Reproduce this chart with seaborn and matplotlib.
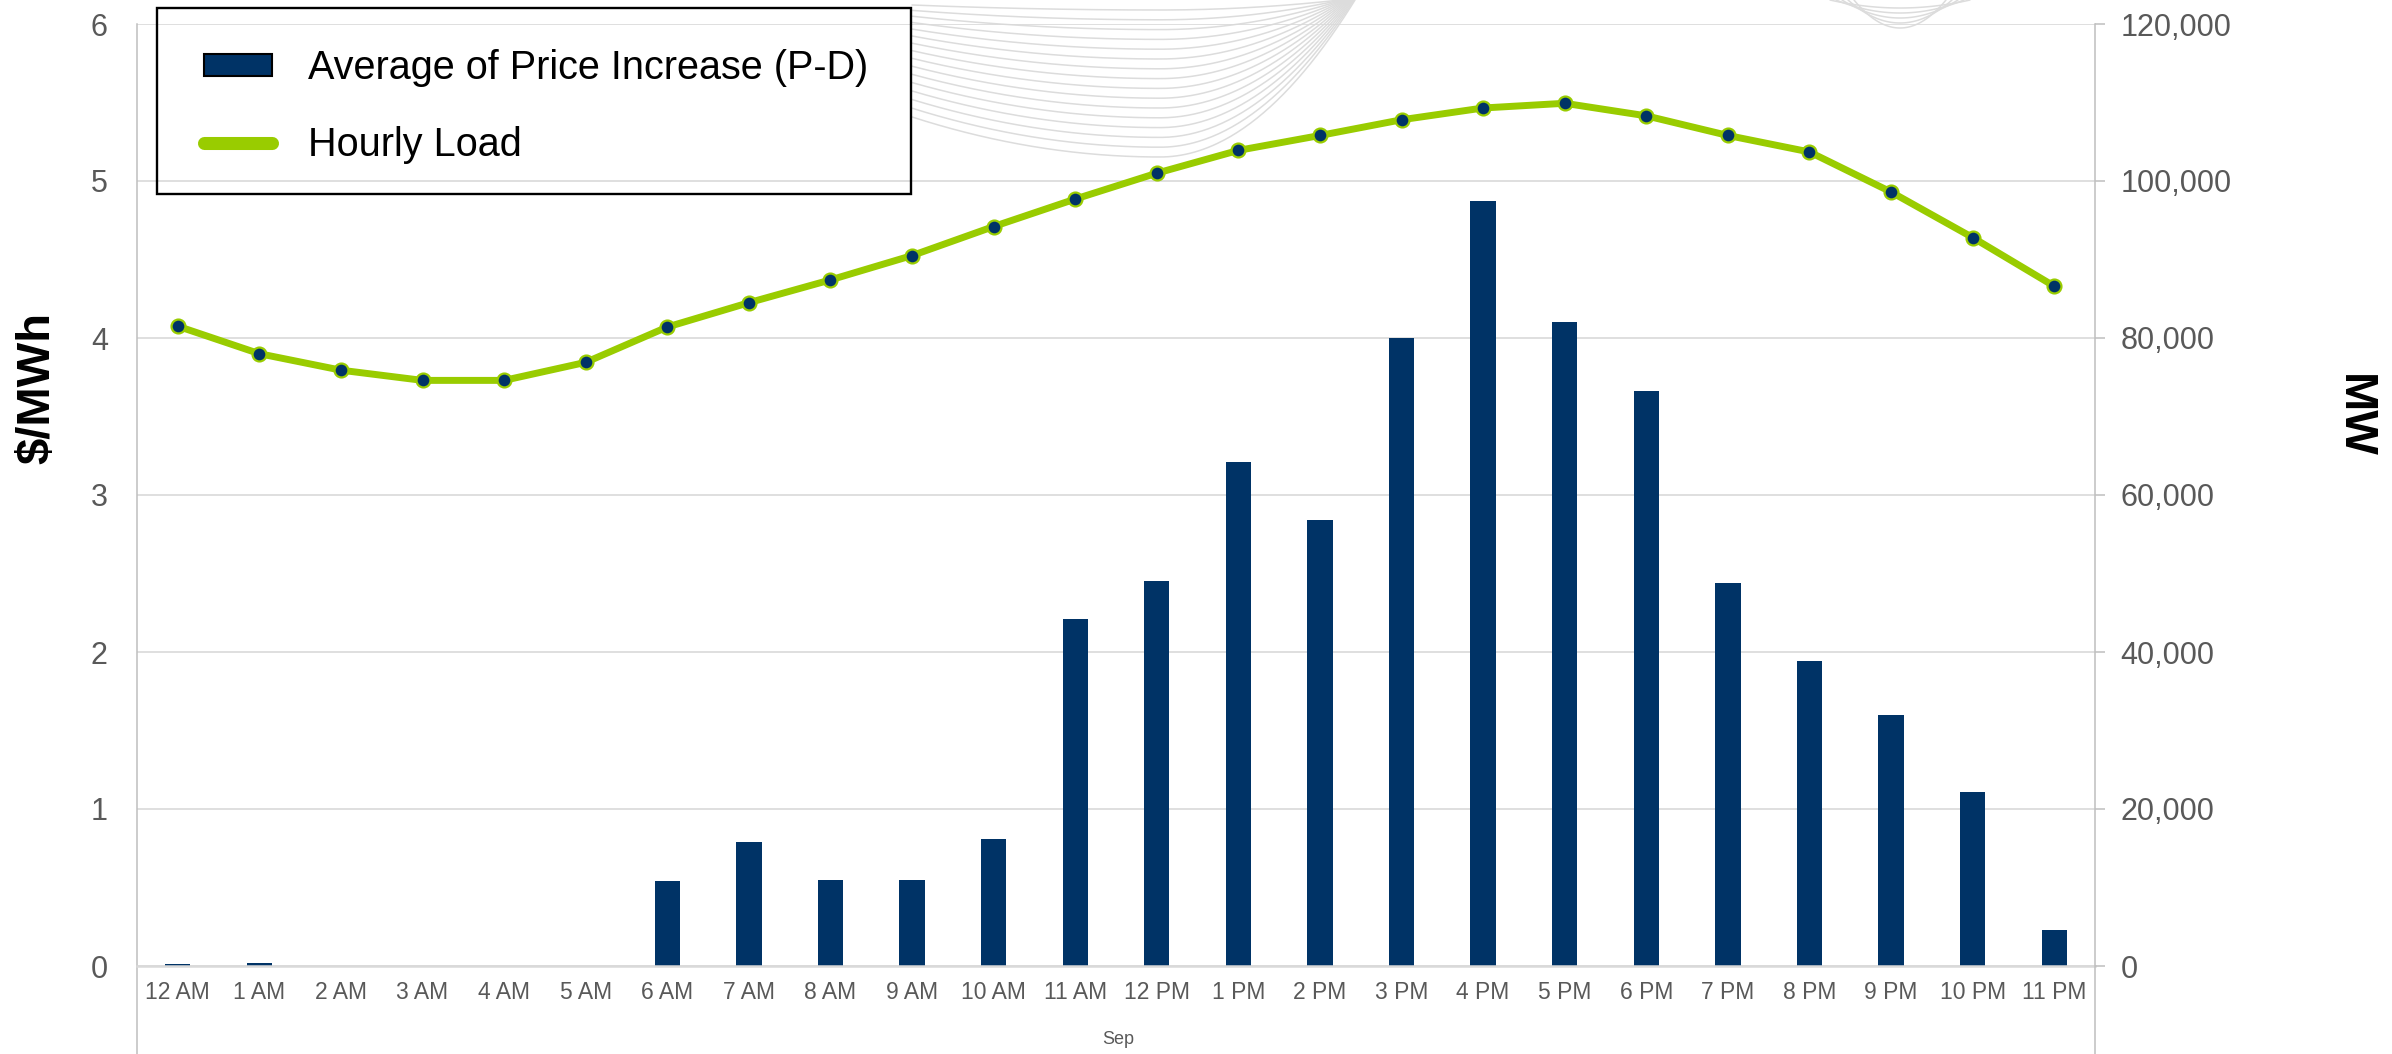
import numpy as np
import seaborn as sns
import matplotlib
matplotlib.use('Agg')
import matplotlib.pyplot as plt
from matplotlib.patches import Patch, Rectangle
from matplotlib.lines import Line2D
from matplotlib.ticker import FuncFormatter, MultipleLocator
from matplotlib import font_manager

# ---- data ----
hours = ['12 AM', '1 AM', '2 AM', '3 AM', '4 AM', '5 AM', '6 AM', '7 AM', '8 AM', '9 AM',
         '10 AM', '11 AM', '12 PM', '1 PM', '2 PM', '3 PM', '4 PM', '5 PM', '6 PM', '7 PM',
         '8 PM', '9 PM', '10 PM', '11 PM']
price_increase = [0.012, 0.022, 0.003, 0, 0, 0, 0.54, 0.79, 0.55, 0.55,
                  0.81, 2.21, 2.45, 3.21, 2.84, 4.00, 4.87, 4.10, 3.66, 2.44,
                  1.94, 1.60, 1.11, 0.23]
hourly_load = [81500, 78000, 75900, 74600, 74600, 76900, 81400, 84500, 87400, 90500,
               94200, 97700, 101000, 103900, 105800, 107800, 109300, 109900, 108300, 105800,
               103700, 98600, 92800, 86600]
month_label = 'Sep'
left_title = '$/MWh'
right_title = 'MW'
bar_name = 'Average of Price Increase (P-D)'
line_name = 'Hourly Load'

navy = '#003366'
green = '#99cc00'
tick_grey = '#595959'
grid_grey = '#d9d9d9'
axis_grey = '#bfbfbf'

sns.set_style('white')
plt.rcParams['font.family'] = ['Liberation Sans', 'DejaVu Sans']

W, H = 2392, 1054
fig = plt.figure(figsize=(W / 100, H / 100), dpi=100)

# faint background swirl (decoration behind the chart)
bg = fig.add_axes([0, 0, 1, 1], zorder=-1)
bg.set_xlim(0, W)
bg.set_ylim(H, 0)
bg.axis('off')
for k in range(16):
    depth = 10 + 9.8 * k
    wl = 350 + 9.4 * k
    wr = 180 + 1.0 * k
    xs = np.linspace(912, 1160 + wr, 200)
    w = np.where(xs < 1160, wl, wr)
    ys = depth * (1 - ((xs - 1160) / w) ** 2)
    bg.plot(xs, ys, color='#dcdcdc', lw=1.1)
for k in range(5):
    xs = np.linspace(1900 - 70 + 6 * k, 1900 + 70 - 6 * k, 60)
    ys = (8 + 5 * k) * (1 - ((xs - 1900) / (70 - 6 * k)) ** 2)
    bg.plot(xs, ys, color='#dcdcdc', lw=1.1)

ax = fig.add_axes([137 / W, 88 / H, 1958 / W, 942 / H])
ax.set_facecolor('none')

sns.barplot(x=hours, y=price_increase, color=navy, saturation=1, width=0.31,
            linewidth=0, ax=ax)
ax.set_xlim(-0.5, len(hours) - 0.5)
ax.set_ylim(0, 6)
ax.yaxis.set_major_locator(MultipleLocator(1))
ax.grid(axis='y', color=grid_grey, lw=1.2)
ax.grid(axis='x', visible=False)
ax.set_axisbelow(True)
ax.tick_params(axis='y', length=0, pad=21, labelsize=22, labelcolor=tick_grey)
ax.tick_params(axis='x', length=0, pad=11, labelsize=16.5, labelcolor=tick_grey)
ax.set_xlabel('')
ax.set_ylabel('')
ax.spines['top'].set_visible(False)
ax.spines['right'].set_visible(False)
ax.spines['bottom'].set_color(grid_grey)
ax.spines['bottom'].set_linewidth(1.8)
ax.spines['left'].set_color(axis_grey)
ax.spines['left'].set_linewidth(1.1)
ax.spines['left'].set_bounds(-0.6, 6)

ax2 = ax.twinx()
x_pos = np.arange(len(hours))
sns.lineplot(x=x_pos, y=hourly_load, ax=ax2, color=green, linewidth=5,
             marker='o', markersize=10, markerfacecolor=navy,
             markeredgecolor=green, markeredgewidth=1.6)
ax2.set_ylim(0, 120000)
ax2.yaxis.set_major_locator(MultipleLocator(20000))
ax2.yaxis.set_major_formatter(FuncFormatter(lambda v, p: f'{v:,.0f}'))
ax2.grid(False)
ax2.tick_params(axis='y', length=7.2, width=1.1, color=axis_grey, pad=11,
                labelsize=22, labelcolor=tick_grey)
ax2.set_ylabel('')
for s in ['top', 'left', 'bottom']:
    ax2.spines[s].set_visible(False)
ax2.spines['right'].set_color(axis_grey)
ax2.spines['right'].set_linewidth(1.1)
ax2.spines['right'].set_bounds(-12000, 120000)

# axis titles and category group label
fig.text(37 / W, 1 - 388 / H, left_title, rotation=90, fontsize=34, fontweight='bold',
         color='black', ha='center', va='center')
fig.text(2354 / W, 1 - 416 / H, right_title, rotation=270, fontsize=34, fontweight='bold',
         color='black', ha='center', va='center')
fig.text(1118 / W, 1 - 1040 / H, month_label, fontsize=13, color=tick_grey,
         ha='center', va='center')

# legend: entries without frame, box drawn separately to match the original size
try:
    font_manager.findfont('Liberation Sans Narrow', fallback_to_default=False)
    leg_family, leg_size = ['Liberation Sans Narrow', 'Liberation Sans'], 33
except ValueError:
    leg_family, leg_size = ['Liberation Sans'], 28.5
em = leg_size * 100 / 72
text_h = 1.15 * em
handles = [Patch(facecolor=navy, edgecolor='black', linewidth=1.5, label=bar_name),
           Line2D([0], [0], color=green, lw=9.4, solid_capstyle='round', label=line_name)]
leg = ax2.legend(handles=handles, loc='upper left',
                 bbox_to_anchor=(204 / W, 1 - (72 - text_h / 2) / H),
                 bbox_transform=fig.transFigure,
                 borderaxespad=0, borderpad=0, frameon=False,
                 prop={'family': leg_family, 'size': leg_size},
                 handlelength=68 / em, handleheight=19 / em, handletextpad=36 / em,
                 labelspacing=(84 - text_h) / em)
for t in leg.get_texts():
    t.set_color('black')
fig.add_artist(Rectangle((157 / W, 1 - 194 / H), 754 / W, 186 / H,
                         transform=fig.transFigure, fill=False,
                         edgecolor='black', linewidth=1.7))

fig.savefig('out.png', dpi=100)
